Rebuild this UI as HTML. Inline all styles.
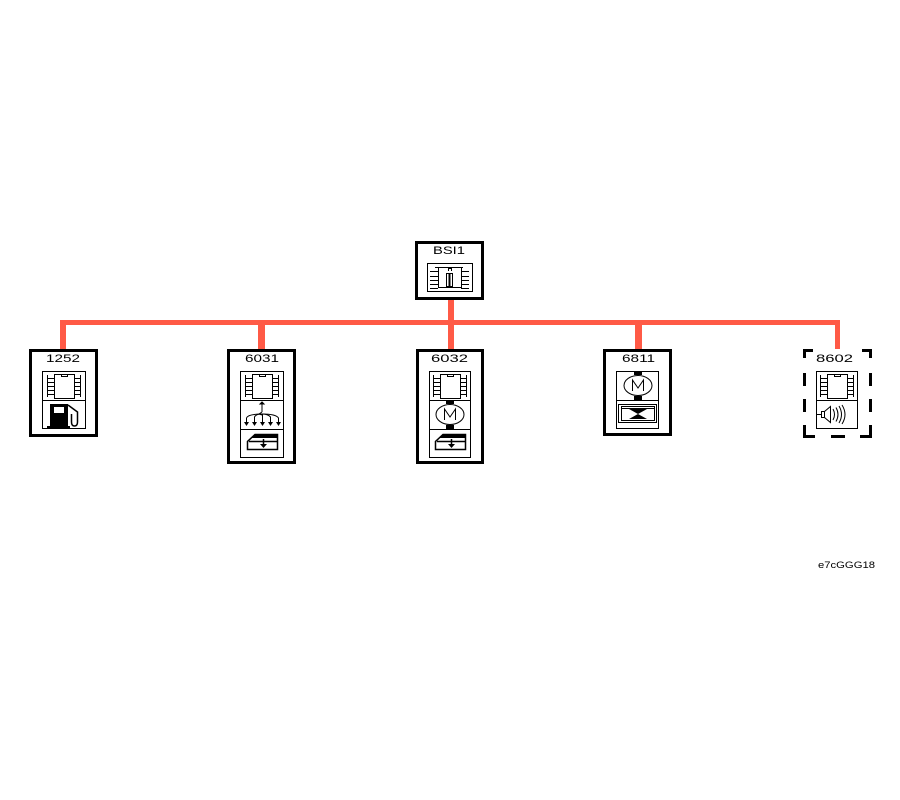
<!DOCTYPE html>
<html><head><meta charset="utf-8"><style>
html,body{margin:0;padding:0;background:#fff;}
svg{display:block;}
text{font-family:"Liberation Sans",sans-serif;fill:#000;}
</style></head><body>
<svg width="900" height="800" viewBox="0 0 900 800" xmlns="http://www.w3.org/2000/svg">
<defs>
<g id="chip" stroke="#000" stroke-width="1" fill="none">
<line x1="5.5" y1="4" x2="5.5" y2="26"/><line x1="38.5" y1="4" x2="38.5" y2="26"/>
<path d="M5.5 7.5H12M5.5 11.5H12M5.5 15.5H12M5.5 19.5H12M5.5 23.5H12M32 7.5H38.5M32 11.5H38.5M32 15.5H38.5M32 19.5H38.5M32 23.5H38.5"/>
<rect x="12.5" y="3.5" width="20" height="24" fill="#fff"/>
<path d="M19.5 3.5v2h6v-2"/>
</g>
<g id="motor">
<rect x="18" y="0" width="8" height="4" fill="#000"/>
<rect x="18" y="25" width="8" height="4" fill="#000"/>
<ellipse cx="22" cy="14.5" rx="14" ry="10" fill="#fff" stroke="#000" stroke-width="1"/>
<path d="M16.5 20V9L22 17L27.5 9V20" fill="none" stroke="#000" stroke-width="1"/>
</g>
<g id="win">
<path d="M15 5.5H37.5V20.5H7.5V12.5Z" fill="#fff" stroke="#000" stroke-width="1.5"/>
<polygon points="15,5 37,5 37,9 11,9" fill="#000"/>
<line x1="9" y1="12.5" x2="37" y2="12.5" stroke="#000" stroke-width="1.5"/>
<line x1="23.5" y1="10" x2="23.5" y2="17" stroke="#000" stroke-width="1.5"/>
<polygon points="20,15 27,15 23.5,19" fill="#000"/>
</g>
</defs>
<rect width="900" height="800" fill="#fff"/>

<!-- connectors -->
<g fill="#ff5a46">
<rect x="60" y="320" width="780" height="5"/>
<rect x="60" y="320" width="6" height="29"/>
<rect x="258" y="322" width="7" height="27"/>
<rect x="448" y="300" width="6" height="49"/>
<rect x="635" y="322" width="7" height="27"/>
<rect x="835" y="320" width="5" height="29"/>
</g>

<!-- BSI1 -->
<rect x="416.5" y="242.5" width="66" height="56" fill="#fff" stroke="#000" stroke-width="3"/>
<text x="433" y="254" font-size="11" textLength="32" lengthAdjust="spacingAndGlyphs">BSI1</text>
<rect x="427.5" y="263.5" width="45" height="28" fill="none" stroke="#000" stroke-width="1"/>
<g stroke="#000" stroke-width="1" fill="none">
<path d="M430 271.5H438M430 276.5H438M430 280.5H438M430 284.5H438M430 288.5H438M461 271.5H469M461 276.5H469M461 280.5H469M461 284.5H469M461 288.5H469"/>
<line x1="435" y1="267.5" x2="463" y2="267.5"/>
<path d="M438.5 267.5V287.5H461.5V267.5"/>
<path d="M448.5 271V268.5H451.5V271"/>
<rect x="446.5" y="273.5" width="6" height="13"/>
<line x1="449.5" y1="274" x2="449.5" y2="286" stroke-width="2"/>
</g>

<!-- 1252 -->
<rect x="30.5" y="350.5" width="66" height="85" fill="#fff" stroke="#000" stroke-width="3"/>
<text x="46" y="362" font-size="11" textLength="34" lengthAdjust="spacingAndGlyphs">1252</text>
<rect x="42.5" y="371.5" width="43" height="57" fill="none" stroke="#000" stroke-width="1"/>
<line x1="42" y1="400.5" x2="86" y2="400.5" stroke="#000" stroke-width="1"/>
<use href="#chip" x="42" y="371"/>
<rect x="50" y="404" width="18" height="23" fill="#000"/>
<rect x="54" y="407" width="10" height="6" fill="#fff"/>
<rect x="47" y="426" width="23" height="2" fill="#000"/>
<path d="M68 405L77.5 412V422Q77.5 426 74.5 426Q71.5 426 71.5 422V414" fill="none" stroke="#000" stroke-width="1.5"/>

<!-- 6031 -->
<rect x="228.5" y="350.5" width="66" height="112" fill="#fff" stroke="#000" stroke-width="3"/>
<text x="245" y="362" font-size="11" textLength="34" lengthAdjust="spacingAndGlyphs">6031</text>
<rect x="240.5" y="371.5" width="43" height="86" fill="none" stroke="#000" stroke-width="1"/>
<line x1="240" y1="400.5" x2="284" y2="400.5" stroke="#000" stroke-width="1"/>
<line x1="240" y1="429.5" x2="284" y2="429.5" stroke="#000" stroke-width="1"/>
<use href="#chip" x="240" y="371"/>
<g stroke="#000" stroke-width="1" fill="none">
<path d="M262 402l-2 2h4z" fill="#000"/>
<line x1="262" y1="404" x2="262" y2="412"/>
<path d="M262 412L259 414L262 415"/>
<path d="M246.5 423V418Q248 414 262 414Q276 414 278.5 418V423"/>
<path d="M254.5 423V417Q256 414 262 414Q268 414 270.5 417V423"/>
<line x1="262.5" y1="414" x2="262.5" y2="423"/>
</g>
<g fill="#000">
<polygon points="244,422 249,422 246.5,426"/>
<polygon points="252,422 257,422 254.5,426"/>
<polygon points="260,422 265,422 262.5,426"/>
<polygon points="268,422 273,422 270.5,426"/>
<polygon points="276,422 281,422 278.5,426"/>
</g>
<use href="#win" x="240" y="429"/>

<!-- 6032 -->
<rect x="417.5" y="350.5" width="65" height="112" fill="#fff" stroke="#000" stroke-width="3"/>
<text x="431" y="362" font-size="11" textLength="37" lengthAdjust="spacingAndGlyphs">6032</text>
<rect x="429.5" y="371.5" width="41" height="86" fill="none" stroke="#000" stroke-width="1"/>
<line x1="429" y1="400.5" x2="471" y2="400.5" stroke="#000" stroke-width="1"/>
<line x1="429" y1="429.5" x2="471" y2="429.5" stroke="#000" stroke-width="1"/>
<use href="#chip" x="428" y="371"/>
<use href="#motor" x="428" y="400"/>
<use href="#win" x="428" y="429"/>

<!-- 6811 -->
<rect x="604.5" y="350.5" width="66" height="84" fill="#fff" stroke="#000" stroke-width="3"/>
<text x="622" y="362" font-size="11" textLength="33" lengthAdjust="spacingAndGlyphs">6811</text>
<rect x="616.5" y="371.5" width="42" height="57" fill="none" stroke="#000" stroke-width="1"/>
<line x1="616" y1="400.5" x2="659" y2="400.5" stroke="#000" stroke-width="1"/>
<use href="#motor" x="616" y="371"/>
<g stroke="#000" stroke-width="1" fill="none">
<rect x="618.5" y="404.5" width="38" height="18"/>
<rect x="621.5" y="406.5" width="33" height="14"/>
<line x1="622" y1="408.5" x2="655" y2="408.5"/>
</g>
<polygon points="629,409 647,409 638,414" fill="#000"/>
<polygon points="629,419 647,419 638,414" fill="#000"/>

<!-- 8602 dashed -->
<g fill="#000">
<rect x="803" y="349" width="10" height="3"/>
<rect x="803" y="349" width="3" height="9"/>
<rect x="862" y="349" width="10" height="3"/>
<rect x="869" y="349" width="3" height="9"/>
<rect x="803" y="373" width="3" height="13"/>
<rect x="803" y="399" width="3" height="13"/>
<rect x="803" y="425" width="3" height="13"/>
<rect x="803" y="435" width="12" height="3"/>
<rect x="869" y="373" width="3" height="13"/>
<rect x="869" y="399" width="3" height="13"/>
<rect x="869" y="425" width="3" height="13"/>
<rect x="860" y="435" width="12" height="3"/>
<rect x="831" y="435" width="14" height="3"/>
</g>
<text x="816" y="362" font-size="11" textLength="37" lengthAdjust="spacingAndGlyphs">8602</text>
<rect x="816.5" y="371.5" width="41" height="57" fill="none" stroke="#000" stroke-width="1"/>
<line x1="816" y1="400.5" x2="858" y2="400.5" stroke="#000" stroke-width="1"/>
<use href="#chip" x="815" y="371"/>
<g stroke="#000" stroke-width="1" fill="none">
<line x1="817" y1="414.5" x2="822" y2="414.5"/>
<rect x="821.5" y="411.5" width="3" height="6"/>
<path d="M824.5 411.5L830.5 406.5V422.5L824.5 417.5"/>
<path d="M833 409Q836 414.5 833 420"/>
<path d="M836 407.5Q840 414.5 836 421.5"/>
<path d="M839 406Q844 414.5 839 423"/>
<path d="M842 405Q848 414.5 842 424"/>
</g>

<!-- reference code -->
<text x="818" y="568" font-size="9" textLength="57" lengthAdjust="spacingAndGlyphs">e7cGGG18</text>
</svg>
</body></html>
